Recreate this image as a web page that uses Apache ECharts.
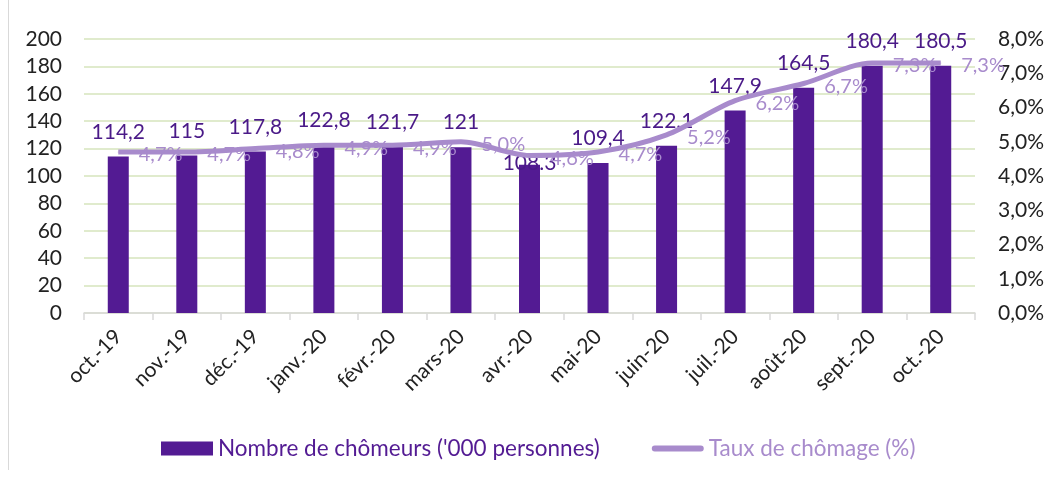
<!DOCTYPE html>
<html lang="fr">
<head>
    <meta charset="UTF-8">
    <title>Chômage</title>
    <script src="https://cdn.jsdelivr.net/npm/echarts@6/dist/echarts.min.js"></script>
</head>
<style>
    html, body { margin: 0; padding: 0; background: #fff; }
    #main { width: 1049px; height: 477px; }
</style>
<body>
<div id="main"></div>
<script>
    var months = ['oct.-19', 'nov.-19', 'déc.-19', 'janv.-20', 'févr.-20', 'mars-20', 'avr.-20',
        'mai-20', 'juin-20', 'juil.-20', 'août-20', 'sept.-20', 'oct.-20'];
    var chomeurs = [114.2, 115, 117.8, 122.8, 121.7, 121, 108.3, 109.4, 122.1, 147.9, 164.5, 180.4, 180.5];
    var taux = [4.7, 4.7, 4.8, 4.9, 4.9, 5.0, 4.6, 4.7, 5.2, 6.2, 6.7, 7.3, 7.3];

    var font = 'Lato, "Open Sans", sans-serif';
    var barColor = '#531b93';
    var lineColor = '#a88bcc';

    var myChart = echarts.init(document.getElementById('main'));

    // avr.-20 : etiquette décalée et avec point, comme dans l'original
    var barData = chomeurs.map(function (v, i) {
        if (i === 6) {
            return { value: v, label: { formatter: '108.3', position: 'insideTop', distance: -12 } };
        }
        return v;
    });

    var option = {
        animation: false,
        textStyle: { fontFamily: font },
        graphic: [{
            type: 'line',
            shape: { x1: 8.5, y1: 0, x2: 8.5, y2: 470 },
            style: { stroke: '#d9d9d9', lineWidth: 1 }
        }],
        grid: { left: 84, right: 74, top: 39, bottom: 164 },
        legend: {
            top: 432,
            left: 156,
            itemGap: 52,
            itemWidth: 52,
            itemHeight: 14,
            textStyle: { fontSize: 22.5, fontFamily: font },
            data: [
                { name: "Nombre de chômeurs ('000 personnes)", icon: 'rect', textStyle: { color: barColor } },
                {
                    name: 'Taux de chômage (%)',
                    icon: 'path://M0,0H0.01V0.01H0Z M3,4H49A3,3 0 0 1 49,10H3A3,3 0 0 1 3,4Z M0,13.99H0.01V14H0Z',
                    textStyle: { color: lineColor }
                }
            ]
        },
        xAxis: {
            type: 'category',
            data: months,
            axisLine: { lineStyle: { color: '#d9d9d9', width: 1.5 } },
            axisTick: { show: true, length: 7, lineStyle: { color: '#d9d9d9', width: 1.5 } },
            axisLabel: { rotate: 45, fontSize: 21, color: '#222', margin: 20, interval: 0 }
        },
        yAxis: [{
            type: 'value',
            min: 0, max: 200, interval: 20,
            axisLine: { show: false },
            axisTick: { show: false },
            splitLine: { lineStyle: { color: '#d6e4bc', width: 1.5 } },
            axisLabel: { fontSize: 21, color: '#222', margin: 22 }
        }, {
            type: 'value',
            min: 0, max: 8, interval: 1,
            axisLine: { show: false },
            axisTick: { show: false },
            splitLine: { show: false },
            axisLabel: {
                fontSize: 21, color: '#222', margin: 23,
                formatter: function (v) { return v.toFixed(1).replace('.', ',') + '%'; }
            }
        }],
        series: [{
            name: "Nombre de chômeurs ('000 personnes)",
            type: 'bar',
            data: barData,
            barWidth: 21,
            itemStyle: { color: barColor },
            label: {
                show: true,
                position: 'top',
                distance: 14,
                fontSize: 21,
                color: '#4a1a88',
                fontFamily: font,
                formatter: function (p) { return String(p.value).replace('.', ','); }
            }
        }, {
            name: 'Taux de chômage (%)',
            type: 'line',
            yAxisIndex: 1,
            data: taux,
            smooth: 0.3,
            showSymbol: true,
            symbol: 'circle',
            symbolSize: 1,
            lineStyle: { color: lineColor, width: 5 },
            itemStyle: { color: lineColor },
            label: {
                show: true,
                position: 'right',
                distance: 20,
                offset: [0, 3],
                fontSize: 20,
                color: lineColor,
                fontFamily: font,
                formatter: function (p) { return p.value.toFixed(1).replace('.', ',') + '%'; }
            }
        }]
    };

    myChart.setOption(option);
</script>
</body>
</html>
